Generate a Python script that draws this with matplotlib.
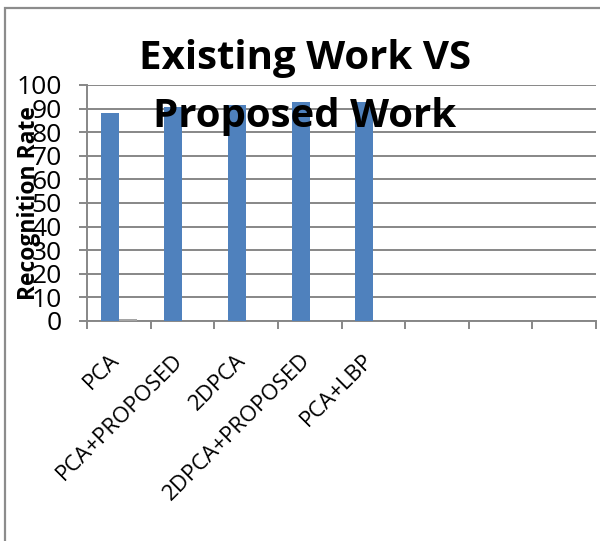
import matplotlib
matplotlib.use('Agg')
import matplotlib.pyplot as plt
import matplotlib.transforms as mtransforms
from matplotlib.patches import Rectangle
import numpy as np

# ---- data ----
categories = ['PCA', 'PCA+PROPOSED', '2DPCA', '2DPCA+PROPOSED', 'PCA+LBP', '', '', '']
existing_rates = [88, 90.5, 91.5, 92.7, 92.7, np.nan, np.nan, np.nan]
second_rates = [1, 0, 0, 0, 0, np.nan, np.nan, np.nan]
yticks = list(range(0, 101, 10))
title_lines = ['Existing Work VS', 'Proposed Work']
ylabel = 'Recognition Rate'

plt.rcParams['font.family'] = ['Open Sans', 'DejaVu Sans']
GRID = '#878787'
W, H = 600, 541

fig = plt.figure(figsize=(W / 100, H / 100), dpi=100)
fig.patch.set_facecolor('white')

# outer chart frame
fig.add_artist(Rectangle((5 / W, -0.05), 1.2, 1 - 8 / H + 0.05,
                         transform=fig.transFigure, fill=False,
                         edgecolor='#8c8c8c', linewidth=1.6))

left, right = 87 / W, 596 / W
bottom, top = 1 - 321 / H, 1 - 85 / H
ax = fig.add_axes([left, bottom, right - left, top - bottom])

n = len(categories)
x = np.arange(n)
w = 1 / 3.5
ax.bar(x - w / 2, existing_rates, width=w, color='#4F81BD', zorder=3)
ax.bar(x + w / 2, second_rates, width=w, color='#A5A5A5', zorder=3)

ax.set_xlim(-0.5, n - 0.5)
ax.set_ylim(0, 100)
ax.set_yticks(yticks)
ax.yaxis.grid(True, color=GRID, linewidth=1.4, zorder=0)
ax.set_axisbelow(True)

for s in ['top', 'right']:
    ax.spines[s].set_visible(False)
for s in ['left', 'bottom']:
    ax.spines[s].set_color(GRID)
    ax.spines[s].set_linewidth(1.4)

ax.set_xticks(np.arange(n + 1) - 0.5)
ax.set_xticklabels([])
ax.set_xticks(x, minor=True)
ax.set_xticklabels(categories, minor=True, rotation=45, ha='right', va='center',
                   rotation_mode='anchor', fontsize=16)
ax.tick_params(axis='x', which='major', length=6, width=1.4, color=GRID)
ax.tick_params(axis='x', which='minor', length=0, pad=26)
shift = mtransforms.ScaledTranslation(-3 / 100, 0, fig.dpi_scale_trans)
for lab in ax.get_xticklabels(minor=True):
    lab.set_transform(lab.get_transform() + shift)

ax.tick_params(axis='y', length=6, width=1.4, color=GRID, pad=12, labelsize=19)

fig.text(29 / W, 1 - 203 / H, ylabel, rotation=90, ha='center', va='center',
         fontsize=16.5, fontweight='bold')

fig.text(305 / W, 1 - 59 / H, title_lines[0], ha='center', va='center',
         fontsize=29, fontweight='bold', zorder=10)
fig.text(305 / W, 1 - 117 / H, title_lines[1], ha='center', va='center',
         fontsize=29, fontweight='bold', zorder=10)

fig.savefig('out.png', dpi=100, facecolor='white')
